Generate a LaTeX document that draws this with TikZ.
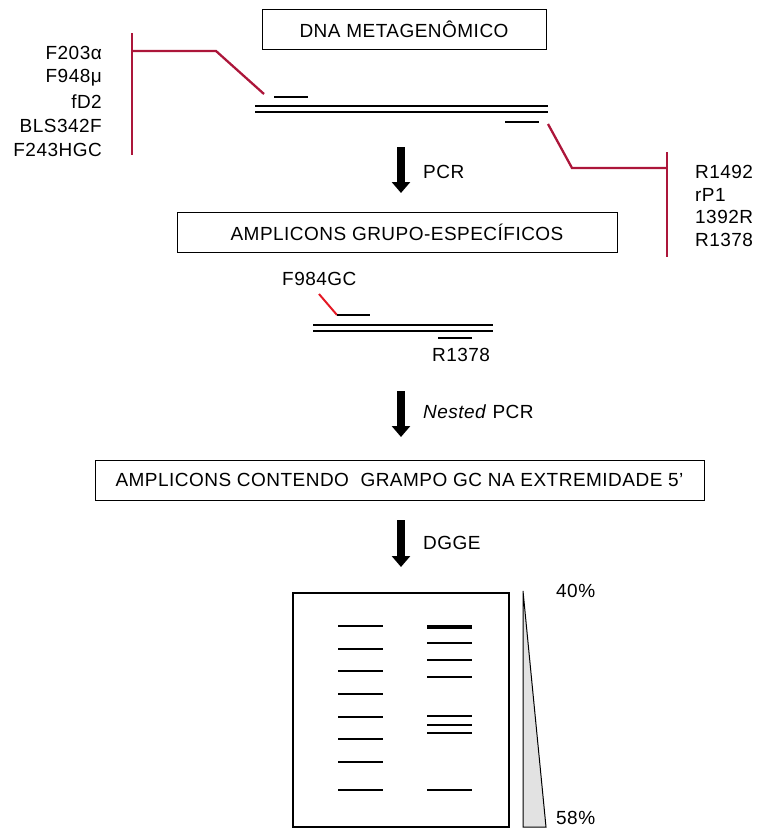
\documentclass[tikz,border=0pt]{standalone}
\usepackage{fontspec}
\setmainfont{Liberation Sans}[LetterSpace=2.5]
\usetikzlibrary{arrows.meta}
\definecolor{primred}{RGB}{172,22,58}
\definecolor{gcred}{RGB}{228,24,36}
\definecolor{wedgegray}{RGB}{226,226,226}
\begin{document}
\begin{tikzpicture}[x=1pt,y=-1pt,
  txt/.style={font=\fontsize{19}{22}\selectfont},
  box/.style={draw,line width=1pt,minimum height=40pt,inner sep=0pt,txt},
  lbl/.style={inner sep=0pt,txt},
  strand/.style={line width=2.4pt},
  primer/.style={line width=2.3pt},
  redl/.style={primred,line width=2.3pt},
  bigarrow/.style={line width=8pt,-{Triangle[length=11pt,width=18pt]}},
  band/.style={line width=2.4pt}]
\useasboundingbox (0,0) rectangle (758,830);

% Boxes
\node[box,minimum width=284pt] (dna) at (404,29) {DNA METAGENÔMICO};
\node[box,minimum width=440pt] (amp) at (397,232) {AMPLICONS GRUPO-ESPECÍFICOS};
\node[box,minimum width=609pt] (gc) at (399.5,480) {AMPLICONS CONTENDO\ \ GRAMPO GC NA EXTREMIDADE 5'};

% Left primer labels
\node[lbl,anchor=east] (f1) at (102,53) {F203α};
\node[lbl,anchor=east] (f2) at (102,78) {F948μ};
\node[lbl,anchor=east] (f3) at (102,102) {fD2};
\node[lbl,anchor=east] (f4) at (102,126) {BLS342F};
\node[lbl,anchor=east] (f5) at (102,150) {F243HGC};

% Right primer labels
\node[lbl,anchor=west] (r1) at (695,172) {R1492};
\node[lbl,anchor=west] (r2) at (695,195) {rP1};
\node[lbl,anchor=west] (r3) at (695,217) {1392R};
\node[lbl,anchor=west] (r4) at (695,240) {R1378};

% Template DNA
\coordinate (s1a) at (255,106); \coordinate (s1b) at (548,106);
\coordinate (s2a) at (255,112); \coordinate (s2b) at (548,112);
\draw[strand] (s1a) -- (s1b);
\draw[strand] (s2a) -- (s2b);
\coordinate (p1a) at (274,97); \coordinate (p1b) at (308,97);
\draw[primer] (p1a) -- (p1b);
\coordinate (p2a) at (505,122); \coordinate (p2b) at (539,122);
\draw[primer] (p2a) -- (p2b);

% Left red bracket
\coordinate (lb1) at (132,33); \coordinate (lb2) at (132,155);
\coordinate (lh) at (132,51); \coordinate (lk) at (216,51); \coordinate (le) at (264,94);
\draw[redl] (lb1) -- (lb2);
\draw[redl] (lh) -- (lk) -- (le);

% Right red bracket
\coordinate (rb1) at (667,152); \coordinate (rb2) at (667,257);
\coordinate (rs) at (548,124); \coordinate (rk) at (572,168); \coordinate (rh) at (667,168);
\draw[redl] (rb1) -- (rb2);
\draw[redl] (rs) -- (rk) -- (rh);

% PCR arrow
\coordinate (a1s) at (401,147); \coordinate (a1e) at (401,193);
\draw[bigarrow] (a1s) -- (a1e);
\node[lbl,anchor=west] (pcr) at (423,172) {PCR};

% Amplicon DNA
\node[lbl,anchor=west] (f984) at (282,279) {F984GC};
\coordinate (ga) at (319,294); \coordinate (gb) at (337,315); \coordinate (gc2) at (370,315);
\draw[gcred,line width=2pt] (ga) -- (gb);
\draw[primer] (gb) -- (gc2);
\coordinate (t1a) at (313,325); \coordinate (t1b) at (493,325);
\coordinate (t2a) at (313,331); \coordinate (t2b) at (493,331);
\draw[strand] (t1a) -- (t1b);
\draw[strand] (t2a) -- (t2b);
\coordinate (p3a) at (438,338); \coordinate (p3b) at (472,338);
\draw[primer] (p3a) -- (p3b);
\node[lbl,anchor=west] (r1378) at (432,355) {R1378};

% Nested PCR arrow
\coordinate (a2s) at (401,391); \coordinate (a2e) at (401,437);
\draw[bigarrow] (a2s) -- (a2e);
\node[lbl,anchor=west] (npcr) at (423,412) {\textit{Nested} PCR};

% DGGE arrow
\coordinate (a3s) at (401,520); \coordinate (a3e) at (401,567);
\draw[bigarrow] (a3s) -- (a3e);
\node[lbl,anchor=west] (dgge) at (423,543) {DGGE};

% Gel
\draw[line width=2.4pt] (293,593) rectangle (509,827);
\foreach \y in {626,649,671,694,717,739,762,790}
  \draw[band] (338,\y) -- (383,\y);
\draw[line width=4.2pt] (427,627) -- (472,627);
\foreach \y in {643,660,677,716,725,733,790}
  \draw[band] (427,\y) -- (472,\y);

% Gradient wedge
\draw[fill=wedgegray,line width=1pt] (523,591) -- (546,827) -- (523,827) -- cycle;
\node[lbl,anchor=west] (p40) at (556,591) {40\%};
\node[lbl,anchor=west] (p58) at (556,818) {58\%};
\end{tikzpicture}
\end{document}
